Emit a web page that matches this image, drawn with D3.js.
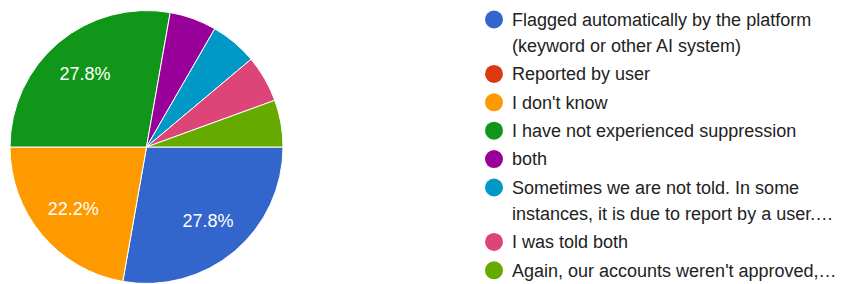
<!DOCTYPE html>
<html>
<head>
<meta charset="utf-8">
<script src="https://cdn.jsdelivr.net/npm/d3@7"></script>
<style>
  body { margin: 0; background: #fff; }
  svg { display: block; font-family: "Liberation Sans", Arial, sans-serif; }
</style>
</head>
<body>
<div id="chart"></div>
<script>
// answers, in the order of the legend
const answers = [
  ["Flagged automatically by the platform", "(keyword or other AI system)"],
  ["Reported by user"],
  ["I don't know"],
  ["I have not experienced suppression"],
  ["both"],
  ["Sometimes we are not told. In some", "instances, it is due to report by a user.…"],
  ["I was told both"],
  ["Again, our accounts weren't approved,…"]
];
const counts = [5, 0, 4, 5, 1, 1, 1, 1];
const colors = ["#3366cc", "#dc3912", "#ff9900", "#109618", "#990099", "#0099c6", "#dd4477", "#66aa00"];

const width = 842;
const height = 284;
const cx = 146.5, cy = 147, radius = 136.5;

const svg = d3.select("#chart")
  .append("svg")
  .attr("width", width)
  .attr("height", height);

const data = counts.map((c, i) => ({ count: c, color: colors[i], label: answers[i] }));
const total = d3.sum(counts);

// pie starts at 3 o'clock, like the forms chart
const pie = d3.pie()
  .sort(null)
  .value(d => d.count)
  .startAngle(Math.PI / 2)
  .endAngle(Math.PI / 2 + 2 * Math.PI);

const arc = d3.arc().innerRadius(0).outerRadius(radius);
const labelArc = d3.arc().innerRadius(radius * 0.7).outerRadius(radius * 0.7);

const g = svg.append("g").attr("transform", `translate(${cx},${cy})`);

const slices = pie(data).filter(d => d.data.count > 0);

g.selectAll("path")
  .data(slices)
  .enter()
  .append("path")
  .attr("d", arc)
  .attr("fill", d => d.data.color)
  .attr("stroke", "#fff")
  .attr("stroke-width", 1);

// only the big slices get a percentage
const fmt = d3.format(".1%");
g.selectAll("text.pct")
  .data(slices.filter(d => d.data.count / total > 0.1))
  .enter()
  .append("text")
  .attr("class", "pct")
  .attr("transform", d => `translate(${labelArc.centroid(d)})`)
  .attr("text-anchor", "middle")
  .attr("dy", "0.35em")
  .attr("fill", "#fff")
  .style("font-size", "18px")
  .text(d => fmt(d.data.count / total));

// legend
const legendX = 494, legendTop = 19.5, rowStep = 28.4, lineStep = 26;
let y = legendTop;
data.forEach(d => {
  const item = svg.append("g").attr("transform", `translate(${legendX},${y})`);
  item.append("circle").attr("r", 9).attr("fill", d.color);
  d.label.forEach((line, j) => {
    item.append("text")
      .attr("x", 18)
      .attr("y", j * lineStep)
      .attr("dy", "0.35em")
      .attr("fill", "#222")
      .style("font-size", "18px")
      .text(line);
  });
  y += rowStep + (d.label.length - 1) * lineStep;
});
</script>
</body>
</html>
